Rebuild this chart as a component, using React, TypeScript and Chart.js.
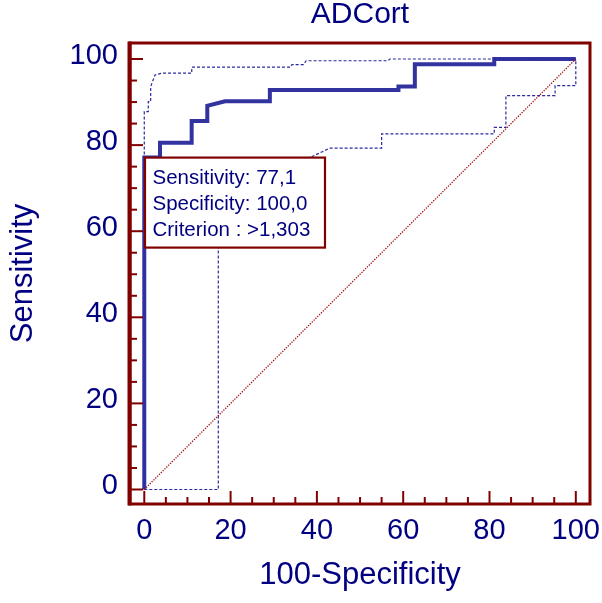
import React, { useEffect, useRef } from 'react';
import { Chart, registerables } from 'chart.js';

Chart.register(...registerables);

const chartTitle = 'ADCort';
const xAxisTitle = '100-Specificity';
const yAxisTitle = 'Sensitivity';
const tickValues = [0, 20, 40, 60, 80, 100];
const minorTickValues = [0, 5, 10, 15, 20, 25, 30, 35, 40, 45, 50, 55, 60, 65, 70, 75, 80, 85, 90, 95, 100];

// ROC curve (empirical)
const rocX = [0, 0, 3.64, 3.64, 10.98, 10.98, 14.6, 14.6, 18.7, 29.1, 29.1, 58.9, 58.9, 62.7, 62.7, 81.1, 81.1, 100];
const rocY = [0, 77.1, 77.1, 80.56, 80.56, 85.6, 85.6, 89.15, 90.2, 90.2, 92.8, 92.8, 93.6, 93.6, 98.8, 98.8, 100, 100];

// Upper confidence bound
const upperX = [0, 0, 0.93, 0.93, 1.48, 1.48, 2.48, 4.0, 11.0, 11.0, 33.8, 34.2, 36.9, 37.5, 56.5, 56.9, 100];
const upperY = [0, 87.8, 87.8, 90.1, 90.1, 93.6, 96.3, 96.7, 96.7, 98.1, 98.1, 98.7, 98.7, 99.6, 99.6, 100, 100];

// Lower confidence bound
const lowerX = [0, 17.15, 17.15, 30.0, 38.8, 43.0, 55.0, 55.0, 81.1, 81.1, 83.8, 83.8, 95.2, 95.2, 100, 100];
const lowerY = [0, 0, 72.0, 75.0, 77.3, 79.3, 79.3, 82.6, 82.6, 84.1, 84.1, 91.5, 91.5, 93.8, 93.8, 100];

// Reference diagonal
const diagX = [0, 100];
const diagY = [0, 100];

// Optimal criterion
const criterionX = 0;
const criterionSensitivity = 77.1;
const criterionSpecificity = 100.0;
const criterionLabel = '>1,303';

const xMin = -3.31;
const xMax = 103.29;
const yMin = -3.37;
const yMax = 103.72;

const NAVY = '#000080';
const MAROON = '#800000';
const FONT = '"Liberation Sans", Arial, sans-serif';

const fmt = (v: number) => v.toFixed(1).replace('.', ',');
const toPts = (xs: number[], ys: number[]) => xs.map((x, i) => ({ x, y: ys[i] }));

const framePlugin = {
  id: 'frameTicksBox',
  afterDatasetsDraw(chart: any) {
    const { ctx, chartArea: a, scales } = chart;
    const xs = scales.x;
    const ys = scales.y;
    ctx.save();
    ctx.strokeStyle = MAROON;
    ctx.lineWidth = 2;
    ctx.setLineDash([]);
    minorTickValues.forEach((v) => {
      const len = tickValues.includes(v) ? 13 : 7;
      const px = xs.getPixelForValue(v);
      ctx.beginPath();
      ctx.moveTo(px, a.bottom);
      ctx.lineTo(px, a.bottom - len);
      ctx.stroke();
      const py = ys.getPixelForValue(v);
      ctx.beginPath();
      ctx.moveTo(a.left, py);
      ctx.lineTo(a.left + len, py);
      ctx.stroke();
    });
    ctx.lineWidth = 3;
    ctx.strokeRect(a.left, a.top, a.right - a.left, a.bottom - a.top);
    ctx.lineWidth = 4;
    ctx.beginPath();
    ctx.moveTo(a.left - 0.5, a.top - 1.5);
    ctx.lineTo(a.left - 0.5, a.bottom + 1.5);
    ctx.stroke();

    // criterion box
    const bx = xs.getPixelForValue(criterionX) + 0.7;
    const by = ys.getPixelForValue(criterionSensitivity);
    const bw = 180;
    const bh = 90;
    ctx.fillStyle = '#ffffff';
    ctx.fillRect(bx, by, bw, bh);
    ctx.lineWidth = 2.2;
    ctx.strokeStyle = MAROON;
    ctx.strokeRect(bx, by, bw, bh);
    ctx.fillStyle = NAVY;
    ctx.font = `20.5px ${FONT}`;
    ctx.textAlign = 'left';
    ctx.textBaseline = 'alphabetic';
    const lines = [
      `Sensitivity: ${fmt(criterionSensitivity)}`,
      `Specificity: ${fmt(criterionSpecificity)}`,
      `Criterion : ${criterionLabel}`,
    ];
    lines.forEach((t, i) => ctx.fillText(t, bx + 7.5, by + 26 + i * 26));
    ctx.restore();
  },
};

export default function App() {
  const ref = useRef<HTMLCanvasElement | null>(null);

  useEffect(() => {
    if (!ref.current) return;
    const lineBase = { showLine: true, pointRadius: 0, pointHoverRadius: 0, fill: false, tension: 0 };
    const chart = new Chart(ref.current, {
      type: 'scatter',
      data: {
        datasets: [
          { ...lineBase, data: toPts(diagX, diagY), borderColor: '#a01010', borderWidth: 1.3, borderDash: [1.3, 1.3] },
          { ...lineBase, data: toPts(lowerX, lowerY), borderColor: '#2a2aa0', borderWidth: 1.2, borderDash: [3, 2] },
          { ...lineBase, data: toPts(upperX, upperY), borderColor: '#2a2aa0', borderWidth: 1.2, borderDash: [3, 2] },
          { ...lineBase, data: toPts(rocX, rocY), borderColor: '#3333a0', borderWidth: 4, borderJoinStyle: 'miter', borderCapStyle: 'butt' },
        ] as any,
      },
      options: {
        animation: false,
        responsive: false,
        devicePixelRatio: 1,
        layout: { padding: { left: 0, right: 12, top: 0, bottom: 0 } },
        plugins: {
          legend: { display: false },
          tooltip: { enabled: false },
          title: {
            display: true,
            text: chartTitle,
            fullSize: false,
            color: NAVY,
            font: { family: FONT, size: 30, weight: 'normal', lineHeight: 1 },
            padding: { top: 0, bottom: 13 },
          },
        },
        scales: {
          x: {
            type: 'linear',
            min: xMin,
            max: xMax,
            grid: { display: false, drawTicks: false },
            border: { display: false },
            afterBuildTicks: (s: any) => {
              s.ticks = tickValues.map((v) => ({ value: v }));
            },
            afterFit: (s: any) => {
              s.height = 99;
              s.paddingLeft = 0;
              s.paddingRight = 0;
            },
            ticks: {
              color: NAVY,
              font: { family: FONT, size: 29 },
              padding: 10,
              maxRotation: 0,
              autoSkip: false,
              callback: (v: any) => String(v),
            },
            title: {
              display: true,
              text: xAxisTitle,
              color: NAVY,
              font: { family: FONT, size: 31 },
              padding: { top: 0, bottom: 8.6 },
            },
          },
          y: {
            type: 'linear',
            min: yMin,
            max: yMax,
            grid: { display: false, drawTicks: false },
            border: { display: false },
            afterBuildTicks: (s: any) => {
              s.ticks = tickValues.map((v) => ({ value: v }));
            },
            afterFit: (s: any) => {
              s.width = 130;
              s.paddingTop = 0;
              s.paddingBottom = 0;
            },
            ticks: {
              color: NAVY,
              font: { family: FONT, size: 29 },
              padding: 12,
              labelOffset: -3,
              autoSkip: false,
              callback: (v: any) => String(v),
            },
            title: {
              display: true,
              text: yAxisTitle,
              color: NAVY,
              font: { family: FONT, size: 31 },
              padding: { top: 4.7, bottom: 0 },
            },
          },
        },
      } as any,
      plugins: [framePlugin],
    });
    return () => chart.destroy();
  }, []);

  return (
    <div style={{ position: 'absolute', left: 0, top: 0, width: 602, height: 603, background: '#fff' }}>
      <canvas ref={ref} width={602} height={603} style={{ display: 'block', width: 602, height: 603 }} />
    </div>
  );
}
